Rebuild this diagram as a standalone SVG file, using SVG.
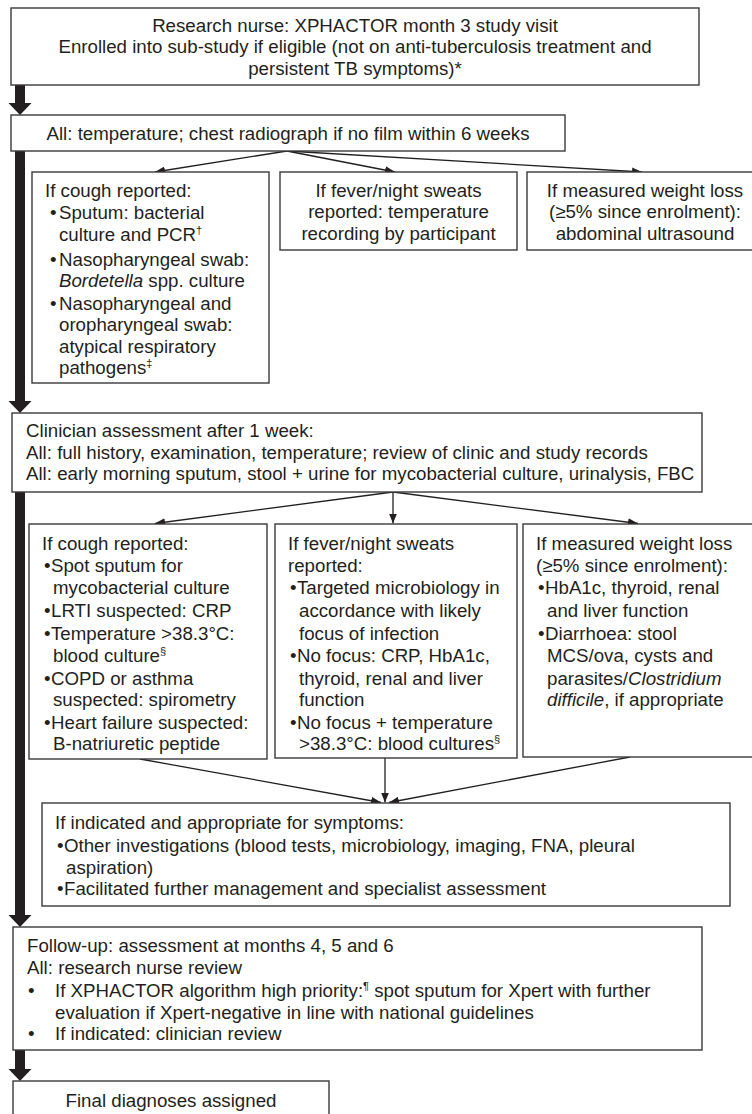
<svg xmlns="http://www.w3.org/2000/svg" width="752" height="1114" viewBox="0 0 752 1114">
<style>
.box{fill:#fff;stroke:#3a3a3a;stroke-width:1.4}
text{font-family:"Liberation Sans",Arial,sans-serif;font-size:18.7px;fill:#231f20}
.c{text-anchor:middle}
.thin{stroke:#231f20;stroke-width:1.3;fill:none;marker-end:url(#ah)}
.thick{fill:#231f20}
.sup{font-size:11px}
</style>
<defs>
<marker id="ah" viewBox="0 0 10 8" refX="10" refY="4" markerWidth="10" markerHeight="8" markerUnits="userSpaceOnUse" orient="auto">
<path d="M0,0 L10,4 L0,8 z" fill="#231f20"/>
</marker>
</defs>
<rect width="752" height="1114" fill="#fff"/>

<g id="connectors">
<polygon class="thick" points="15,85 25,85 25,103 31.5,103 20,115 8.5,103 15,103"/>
<polygon class="thick" points="15,151 25,151 25,401 31.5,401 20,413 8.5,401 15,401"/>
<polygon class="thick" points="15,492 25,492 25,915 31.5,915 20,927 8.5,915 15,915"/>
<polygon class="thick" points="15,1050 25,1050 25,1069 31.5,1069 20,1081 8.5,1069 15,1069"/>
<line class="thin" x1="287" y1="151" x2="155" y2="172"/>
<line class="thin" x1="287" y1="151" x2="395" y2="172"/>
<line class="thin" x1="287" y1="151" x2="642" y2="172"/>
<line class="thin" x1="393" y1="492" x2="155" y2="523.5"/>
<line class="thin" x1="393" y1="492" x2="393" y2="523.5"/>
<line class="thin" x1="393" y1="492" x2="638" y2="523.5"/>
<line class="thin" x1="140" y1="759" x2="381" y2="802.5"/>
<line class="thin" x1="385" y1="758" x2="385" y2="802.5"/>
<line class="thin" x1="630" y1="757" x2="389" y2="802.5"/>
</g>

<g id="n-visit">
<rect class="box" x="11" y="8" width="688" height="77"/>
<text class="c" x="355" y="31.5">Research nurse: XPHACTOR month 3 study visit</text>
<text class="c" x="355" y="53">Enrolled into sub-study if eligible (not on anti-tuberculosis treatment and</text>
<text class="c" x="355" y="74.5">persistent TB symptoms)*</text>
</g>

<g id="n-all">
<rect class="box" x="11" y="115" width="554" height="36"/>
<text class="c" x="288" y="139.5">All: temperature; chest radiograph if no film within 6 weeks</text>
</g>

<g id="n-cough1">
<rect class="box" x="32" y="172" width="237" height="211"/>
<text x="45" y="196.5">If cough reported:</text>
<text x="50" y="218.5">•</text><text x="59" y="218.5">Sputum: bacterial</text>
<text x="59" y="240.5">culture and PCR<tspan class="sup" dy="-7">†</tspan></text>
<text x="50" y="266">•</text><text x="59" y="266">Nasopharyngeal swab:</text>
<text x="59" y="287"><tspan font-style="italic">Bordetella</tspan> spp. culture</text>
<text x="50" y="309.5">•</text><text x="59" y="309.5">Nasopharyngeal and</text>
<text x="59" y="331">oropharyngeal swab:</text>
<text x="59" y="352.5">atypical respiratory</text>
<text x="59" y="373.5">pathogens<tspan class="sup" dy="-7">‡</tspan></text>
</g>

<g id="n-fever1">
<rect class="box" x="280" y="172" width="237" height="78"/>
<text class="c" x="398.5" y="196.5">If fever/night sweats</text>
<text class="c" x="398.5" y="217.5">reported: temperature</text>
<text class="c" x="398.5" y="239.5">recording by participant</text>
</g>

<g id="n-weight1">
<rect class="box" x="527" y="172" width="240" height="78"/>
<text class="c" x="645" y="196.5">If measured weight loss</text>
<text class="c" x="645" y="217.5">(≥5% since enrolment):</text>
<text class="c" x="645" y="239.5">abdominal ultrasound</text>
</g>

<g id="n-clinician">
<rect class="box" x="12" y="413" width="690" height="79"/>
<text x="26" y="437">Clinician assessment after 1 week:</text>
<text x="26" y="459">All: full history, examination, temperature; review of clinic and study records</text>
<text x="26" y="480">All: early morning sputum, stool + urine for mycobacterial culture, urinalysis, FBC</text>
</g>

<g id="n-cough2">
<rect class="box" x="29" y="524" width="238" height="235"/>
<text x="42" y="549.5">If cough reported:</text>
<text x="44" y="571.5">•</text><text x="51" y="571.5">Spot sputum for</text>
<text x="53" y="593.5">mycobacterial culture</text>
<text x="44" y="616.5">•</text><text x="51" y="616.5">LRTI suspected: CRP</text>
<text x="44" y="639.5">•</text><text x="51" y="639.5">Temperature &gt;38.3°C:</text>
<text x="53" y="661.5">blood culture<tspan class="sup" dy="-7">§</tspan></text>
<text x="44" y="684.5">•</text><text x="51" y="684.5">COPD or asthma</text>
<text x="53" y="705.5">suspected: spirometry</text>
<text x="44" y="728.5">•</text><text x="51" y="728.5">Heart failure suspected:</text>
<text x="53" y="749.5">B-natriuretic peptide</text>
</g>

<g id="n-fever2">
<rect class="box" x="275" y="524" width="242" height="234"/>
<text x="288" y="549.5">If fever/night sweats</text>
<text x="288" y="571.5">reported:</text>
<text x="290" y="593.5">•</text><text x="297" y="593.5">Targeted microbiology in</text>
<text x="299" y="616.5">accordance with likely</text>
<text x="299" y="639.5">focus of infection</text>
<text x="290" y="661.5">•</text><text x="297" y="661.5">No focus: CRP, HbA1c,</text>
<text x="299" y="684.5">thyroid, renal and liver</text>
<text x="299" y="705.5">function</text>
<text x="290" y="728.5">•</text><text x="297" y="728.5">No focus + temperature</text>
<text x="299" y="749.5">&gt;38.3°C: blood cultures<tspan class="sup" dy="-7">§</tspan></text>
</g>

<g id="n-weight2">
<rect class="box" x="523" y="524" width="240" height="233"/>
<text x="536" y="549.5">If measured weight loss</text>
<text x="536" y="571.5">(≥5% since enrolment):</text>
<text x="538" y="593.5">•</text><text x="545" y="593.5">HbA1c, thyroid, renal</text>
<text x="547" y="616.5">and liver function</text>
<text x="538" y="639.5">•</text><text x="545" y="639.5">Diarrhoea: stool</text>
<text x="547" y="661.5">MCS/ova, cysts and</text>
<text x="547" y="684.5">parasites/<tspan font-style="italic">Clostridium</tspan></text>
<text x="547" y="705.5"><tspan font-style="italic">difficile</tspan>, if appropriate</text>
</g>

<g id="n-indicated">
<rect class="box" x="42" y="803" width="688" height="103"/>
<text x="55" y="828.5">If indicated and appropriate for symptoms:</text>
<text x="57" y="851.5">•</text><text x="64" y="851.5">Other investigations (blood tests, microbiology, imaging, FNA, pleural</text>
<text x="66" y="873.5">aspiration)</text>
<text x="57" y="894.5">•</text><text x="64" y="894.5">Facilitated further management and specialist assessment</text>
</g>

<g id="n-followup">
<rect class="box" x="13" y="927" width="689" height="123"/>
<text x="27" y="951.5">Follow-up: assessment at months 4, 5 and 6</text>
<text x="27" y="973.5">All: research nurse review</text>
<text x="28" y="996.5">•</text><text x="55" y="996.5">If XPHACTOR algorithm high priority:<tspan class="sup" dy="-7">¶</tspan><tspan dy="7"> spot sputum for Xpert with further</tspan></text>
<text x="55" y="1018.5">evaluation if Xpert-negative in line with national guidelines</text>
<text x="28" y="1039.5">•</text><text x="55" y="1039.5">If indicated: clinician review</text>
</g>

<g id="n-final">
<rect class="box" x="13" y="1081" width="316" height="45"/>
<text class="c" x="171" y="1106.5">Final diagnoses assigned</text>
</g>
</svg>
